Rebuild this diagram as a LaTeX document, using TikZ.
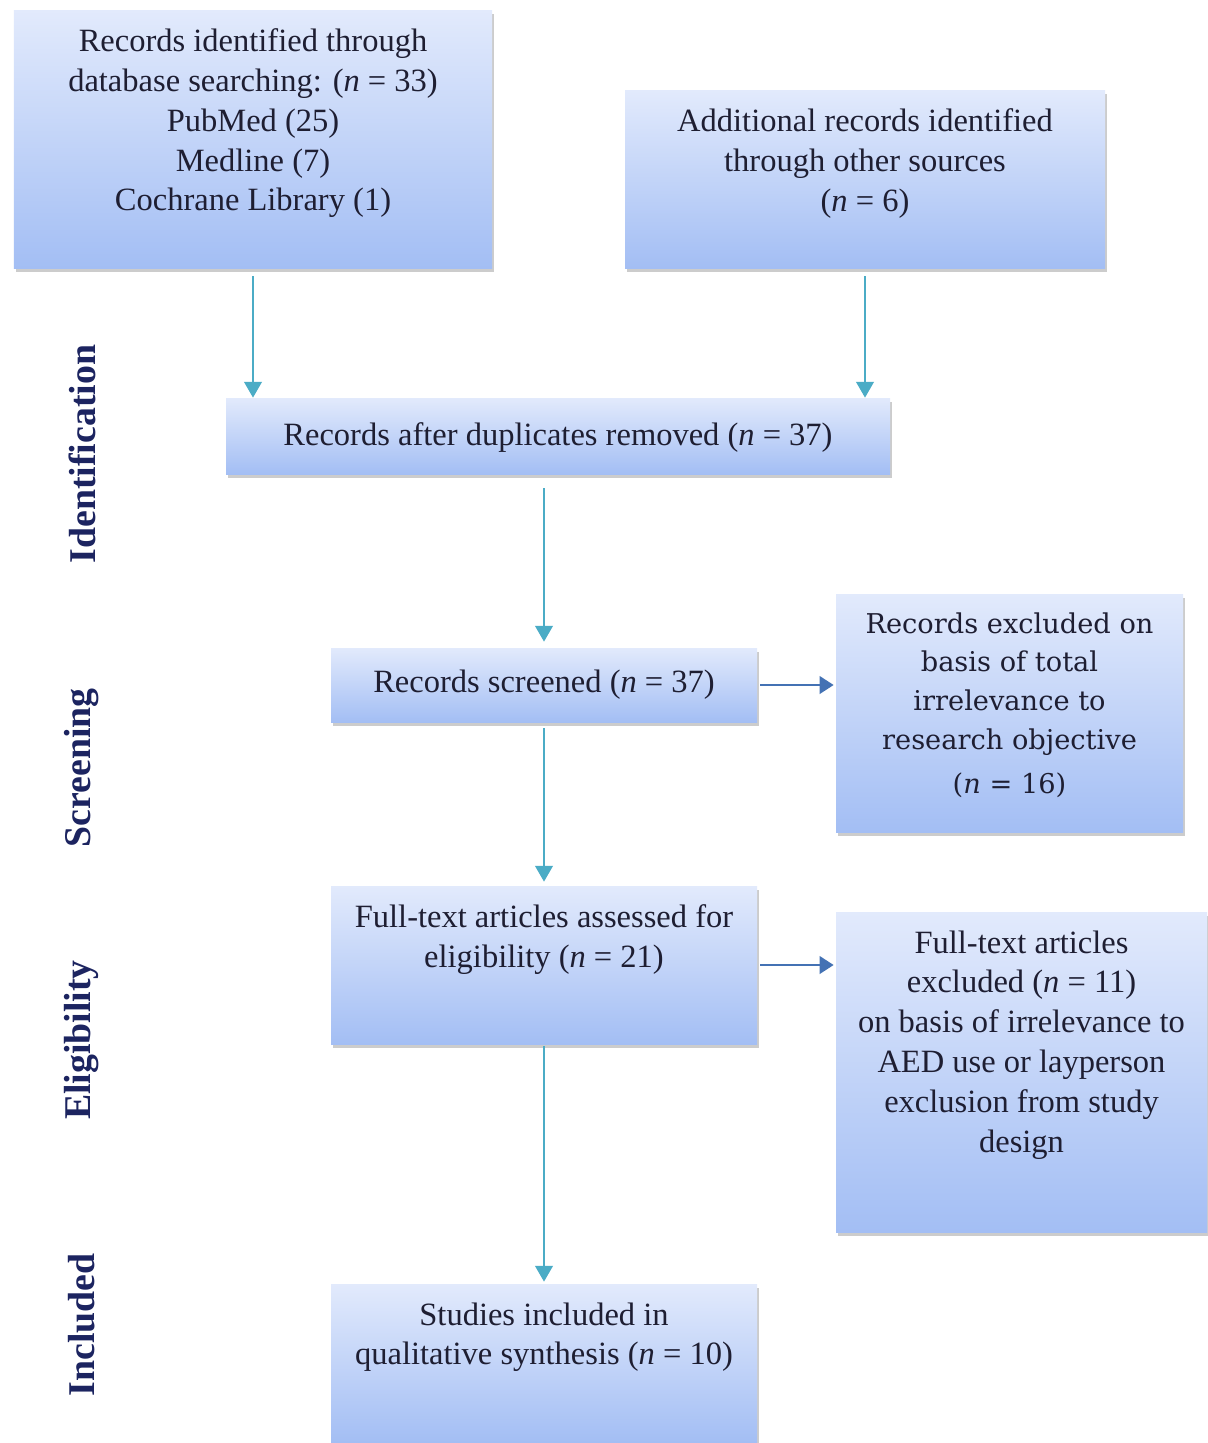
\documentclass[tikz,border=0pt]{standalone}
\usepackage{fontspec}
\setmainfont{Liberation Serif}
\newfontfamily\cambriafont{DejaVu Serif}
\usepackage{xcolor}
\usetikzlibrary{arrows.meta,positioning,shadows,calc}
\definecolor{boxtop}{RGB}{226,234,252}
\definecolor{boxbot}{RGB}{163,190,244}
\definecolor{flowteal}{RGB}{75,172,198}
\definecolor{sideblue}{RGB}{68,114,180}
\definecolor{stagenavy}{RGB}{28,36,96}
\definecolor{inktext}{RGB}{30,30,50}
% box text, kept to the top of the box
\newcommand{\boxtext}[4][0.37cm]{\parbox[c][#3][t]{#2}{\centering\vspace*{#1}#4}}
\tikzset{
  % shaded box
  box/.style={
    draw=none,
    inner sep=0pt,
    top color=boxtop,
    bottom color=boxbot,
    drop shadow={shadow xshift=0.04cm, shadow yshift=-0.08cm, opacity=0.4},
    font=\fontsize{18.5}{22.7}\selectfont,
    text=inktext
  },
  % stage label on the left
  stage/.style={rotate=90, font=\fontsize{21.5}{26}\selectfont\bfseries, text=stagenavy},
  % arrows
  arr/.style={-{Triangle[width=10pt,length=9pt]}, line width=1.3pt, flowteal},
  sidearr/.style={-{Triangle[width=10pt,length=8pt]}, line width=1.3pt, sideblue},
}

\begin{document}
\begin{tikzpicture}
    \useasboundingbox (0,0) rectangle (24.16,-28.86);
    \fill[white] (0,0) rectangle (24.16,-28.86);

    % Identification
    \node[box] (db) at (5.06,-2.78) {\boxtext{9.56cm}{5.16cm}{Records identified through\\ database searching: (\textit{n} = 33)\\ PubMed (25)\\ Medline (7)\\ Cochrane Library (1)}};
    \node[box] (other) at (17.30,-3.58) {\boxtext{9.60cm}{3.56cm}{Additional records identified\\ through other sources\\ (\textit{n} = 6)}};
    \node[box] (dup) at (11.16,-8.72) {\boxtext[0.5cm]{13.28cm}{1.52cm}{Records after duplicates removed (\textit{n} = 37)}};

    % Screening
    \node[box] (scr) at (10.88,-13.70) {\boxtext[0.44cm]{8.52cm}{1.48cm}{Records screened (\textit{n} = 37)}};
    \node[box] (excl) at (20.19,-14.26) {\boxtext{6.94cm}{4.76cm}{\cambriafont\fontsize{15.5}{22}\selectfont Records excluded on\\ basis of total\\ irrelevance to\\ research objective\\[3pt] (\textit{n} = 16)}};

    % Eligibility
    \node[box] (full) at (10.88,-19.30) {\boxtext{8.52cm}{3.16cm}{Full-text articles assessed for\\ eligibility (\textit{n} = 21)}};
    \node[box] (ftexcl) at (20.43,-21.44) {\boxtext{7.42cm}{6.40cm}{Full-text articles\\ excluded (\textit{n} = 11)\\ on basis of irrelevance to\\ AED use or layperson\\ exclusion from study\\ design}};

    % Included
    \node[box] (incl) at (10.88,-27.26) {\boxtext{8.52cm}{3.16cm}{Studies included in\\ qualitative synthesis (\textit{n} = 10)}};

    % stage labels
    \node[stage] (lident) at (1.64,-9.08) {Identification};
    \node[stage] (lscr) at (1.64,-15.36) {Screening};
    \node[stage] (lelig) at (1.64,-20.80) {Eligibility};
    \node[stage] (lincl) at (1.64,-26.50) {Included};

    % arrows
    \draw[arr, shorten <=0.16cm] (db.south) -- (db.south |- dup.north);
    \draw[arr, shorten <=0.16cm] (other.south) -- (other.south |- dup.north);
    \draw[arr, shorten <=0.28cm, shorten >=0.12cm] (scr.north |- dup.south) -- (scr.north);
    \draw[arr, shorten <=0.12cm, shorten >=0.08cm] (scr.south) -- (full.north);
    \draw[arr, shorten <=0.04cm, shorten >=0.04cm] (full.south) -- (incl.north);
    \draw[sidearr, shorten <=0.06cm, shorten >=0.04cm] (scr.east) -- (scr.east -| excl.west);
    \draw[sidearr, shorten <=0.06cm, shorten >=0.04cm] (full.east) -- (full.east -| ftexcl.west);
\end{tikzpicture}
\end{document}
